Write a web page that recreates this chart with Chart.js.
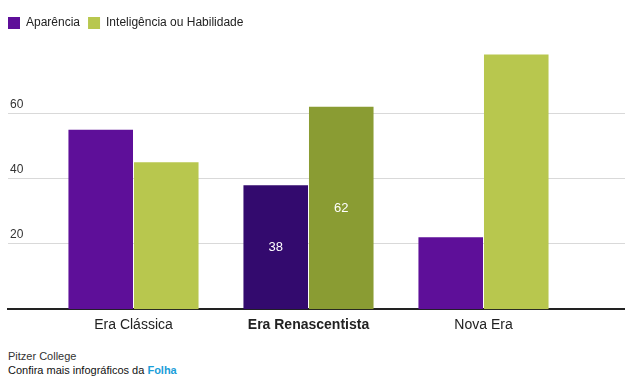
<!DOCTYPE html>
<html>
<head>
<meta charset="utf-8">
<script src="https://cdn.jsdelivr.net/npm/chart.js@4/dist/chart.umd.min.js"></script>
<style>
  body { margin:0; background:#fff; font-family:"Liberation Sans", Arial, sans-serif; }
  #wrap { position:relative; width:625px; height:387px; }
  #chart { position:absolute; left:0; top:0; }
  .foot { position:absolute; left:8px; font-size:11px; color:#333; }
  .foot b { color:#1a9ed9; }
</style>
</head>
<body>
<div id="wrap">
  <canvas id="chart" width="625" height="342"></canvas>
  <div class="foot" style="top:350px">Pitzer College</div>
  <div class="foot" style="top:364px;color:#111">Confira mais infográficos da <b>Folha</b></div>
</div>
<script>
// =====================
// DATA
// =====================
const categories = ["Era Clássica", "Era Renascentista", "Nova Era"]
const aparencia = [55, 38, 22]
const inteligencia = [45, 62, 78]
const yTicks = [20, 40, 60]
const highlight = 1 // the category shown darker, with its values printed

// colours: normal / highlighted
const purple = "#5e0f99", purpleDark = "#330a6e"
const green = "#b8c74e", greenDark = "#8a9c33"

function colorsFor(normal, dark){
  return categories.map((c, i) => i === highlight ? dark : normal)
}

// =====================
// LEGEND HEIGHT (room between legend and plot)
// =====================
const legendSpace = {
  id: "legendSpace",
  beforeInit(chart){
    const fit = chart.legend.fit
    chart.legend.fit = function(){
      fit.bind(chart.legend)()
      this.height = 39
    }
  }
}

// =====================
// VALUE LABELS ON HIGHLIGHTED BARS
// =====================
const valueLabels = {
  id: "valueLabels",
  afterDatasetsDraw(chart){
    const ctx = chart.ctx
    ctx.save()
    ctx.fillStyle = "#fff"
    ctx.font = "13px 'Liberation Sans', Arial, sans-serif"
    ctx.textAlign = "center"
    ctx.textBaseline = "middle"
    chart.data.datasets.forEach((ds, d) => {
      const bar = chart.getDatasetMeta(d).data[highlight]
      const p = bar.getProps(["x", "y", "base"], true)
      ctx.fillText(ds.data[highlight].y, p.x, (p.y + p.base) / 2)
    })
    ctx.restore()
  }
}

new Chart(document.getElementById("chart"), {
  type: "bar",
  data: {
    datasets: [
      { label: "Aparência", data: aparencia.map((v, i) => ({x: i, y: v})),
        backgroundColor: colorsFor(purple, purpleDark) },
      { label: "Inteligência ou Habilidade", data: inteligencia.map((v, i) => ({x: i, y: v})),
        backgroundColor: colorsFor(green, greenDark) }
    ]
  },
  options: {
    responsive: false,
    animation: false,
    layout: { padding: { left: 0, right: 0, top: 9, bottom: 0 } },
    categoryPercentage: 0.749,
    barPercentage: 0.985,
    plugins: {
      tooltip: { enabled: false },
      legend: {
        align: "start",
        labels: {
          boxWidth: 12, boxHeight: 12, padding: 8,
          color: "#222",
          font: { family: "'Liberation Sans', Arial, sans-serif", size: 12 }
        }
      }
    },
    scales: {
      x: {
        type: "linear", offset: false,
        min: -0.7171, max: 2.8086,
        afterBuildTicks: s => { s.ticks = categories.map((c, i) => ({value: i})) },
        grid: { display: false, drawTicks: false },
        border: { display: true, color: "#222", width: 2 },
        ticks: {
          padding: 8,
          color: "#222",
          callback: v => categories[v],
          font: c => ({ family: "'Liberation Sans', Arial, sans-serif", size: 14,
                        weight: c.index === highlight ? "bold" : "normal" })
        }
      },
      y: {
        min: 0, max: 80,
        afterBuildTicks: s => { s.ticks = yTicks.map(v => ({value: v})) },
        afterFit: s => { s.width = 8 },
        grid: { color: "#d9d9d9", drawTicks: false },
        border: { display: false },
        ticks: {
          mirror: true, padding: 2, labelOffset: -9,
          color: "#333",
          font: { family: "'Liberation Sans', Arial, sans-serif", size: 12 }
        }
      }
    }
  },
  plugins: [legendSpace, valueLabels]
})
</script>
</body>
</html>
